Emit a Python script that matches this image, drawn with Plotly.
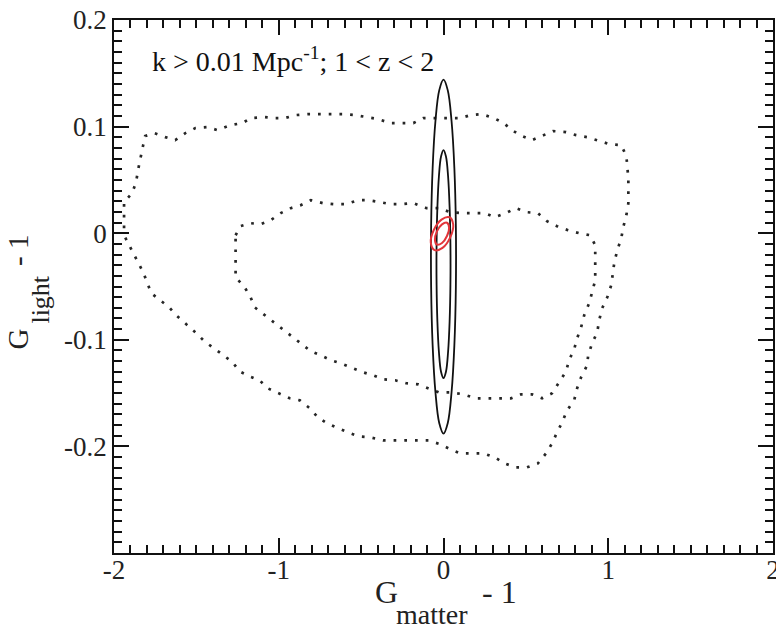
import plotly.graph_objects as go

# ---- data (x = G_matter - 1, y = G_light - 1) ----
outer_dot_x = [-1.939, -1.939, -1.939, -1.890, -1.866, -1.854, -1.841, -1.823, -1.811, -1.756,
               -1.689, -1.628, -1.567, -1.506, -1.433, -1.372, -1.293, -1.220, -1.171, -1.085,
               -1.024, -0.963, -0.896, -0.823, -0.750, -0.683, -0.610, -0.537, -0.470, -0.396,
               -0.323, -0.256, -0.183, -0.122, -0.043, 0.030, 0.104, 0.165, 0.232, 0.305,
               0.366, 0.415, 0.476, 0.537, 0.598, 0.665, 0.744, 0.805, 0.872, 0.933,
               1.006, 1.079, 1.110, 1.116, 1.122, 1.122, 1.122, 1.110, 1.091, 1.079,
               1.055, 1.037, 1.018, 0.994, 0.963, 0.945, 0.933, 0.902, 0.878, 0.872,
               0.835, 0.811, 0.793, 0.750, 0.720, 0.689, 0.659, 0.622, 0.573, 0.506,
               0.439, 0.372, 0.311, 0.244, 0.171, 0.104, 0.043, -0.018, -0.091, -0.152,
               -0.226, -0.293, -0.366, -0.445, -0.518, -0.579, -0.640, -0.707, -0.762, -0.811,
               -0.872, -0.933, -1.000, -1.067, -1.116, -1.177, -1.238, -1.280, -1.335, -1.396,
               -1.451, -1.506, -1.561, -1.616, -1.665, -1.720, -1.774, -1.823, -1.860, -1.902,
               -1.939]
outer_dot_y = [0.0047, 0.0169, 0.0291, 0.0376, 0.0479, 0.0592, 0.0704, 0.0826, 0.0911, 0.0939,
               0.0901, 0.0873, 0.0939, 0.0986, 0.0995, 0.0967, 0.1014, 0.1033, 0.1080, 0.1089,
               0.1080, 0.1080, 0.1108, 0.1117, 0.1117, 0.1117, 0.1117, 0.1108, 0.1089, 0.1070,
               0.1033, 0.1033, 0.1033, 0.1080, 0.1080, 0.1080, 0.1080, 0.1108, 0.1117, 0.1080,
               0.1033, 0.0967, 0.0911, 0.0873, 0.0911, 0.0958, 0.0948, 0.0920, 0.0901, 0.0873,
               0.0836, 0.0826, 0.0723, 0.0620, 0.0507, 0.0385, 0.0282, 0.0169, 0.0056, -0.0047,
               -0.0160, -0.0272, -0.0488, -0.0601, -0.0704, -0.0817, -0.0930, -0.1033, -0.1146, -0.1239,
               -0.1352, -0.1455, -0.1568, -0.1662, -0.1775, -0.1869, -0.1972, -0.2066, -0.2160, -0.2197,
               -0.2197, -0.2160, -0.2103, -0.2066, -0.2066, -0.2066, -0.2028, -0.1981, -0.1944, -0.1944,
               -0.1944, -0.1944, -0.1944, -0.1915, -0.1906, -0.1869, -0.1831, -0.1784, -0.1728, -0.1643,
               -0.1568, -0.1549, -0.1502, -0.1455, -0.1380, -0.1343, -0.1296, -0.1211, -0.1146, -0.1080,
               -0.1014, -0.0930, -0.0854, -0.0779, -0.0695, -0.0629, -0.0563, -0.0366, -0.0254, -0.0141,
               -0.0019]

inner_dot_x = [-1.262, -1.232, -1.171, -1.110, -1.049, -0.988, -0.927, -0.866, -0.805, -0.732,
               -0.659, -0.591, -0.518, -0.457, -0.384, -0.323, -0.256, -0.183, -0.104, -0.030,
               0.043, 0.110, 0.183, 0.250, 0.311, 0.378, 0.439, 0.506, 0.573, 0.628,
               0.689, 0.756, 0.823, 0.890, 0.921, 0.921, 0.921, 0.921, 0.902, 0.884,
               0.854, 0.835, 0.811, 0.793, 0.762, 0.744, 0.701, 0.659, 0.598, 0.537,
               0.470, 0.409, 0.335, 0.262, 0.195, 0.122, 0.043, -0.030, -0.091, -0.152,
               -0.226, -0.293, -0.366, -0.427, -0.488, -0.549, -0.622, -0.683, -0.744, -0.805,
               -0.866, -0.915, -0.970, -1.024, -1.085, -1.146, -1.171, -1.207, -1.262, -1.262,
               -1.262, -1.262, -1.262]
inner_dot_y = [-0.0019, 0.0066, 0.0094, 0.0085, 0.0122, 0.0188, 0.0235, 0.0263, 0.0310, 0.0282,
               0.0272, 0.0272, 0.0310, 0.0310, 0.0291, 0.0272, 0.0272, 0.0282, 0.0235, 0.0235,
               0.0197, 0.0188, 0.0188, 0.0188, 0.0150, 0.0188, 0.0235, 0.0197, 0.0188, 0.0113,
               0.0066, 0.0028, 0.0000, -0.0019, -0.0113, -0.0216, -0.0329, -0.0441, -0.0554, -0.0657,
               -0.0770, -0.0883, -0.0986, -0.1089, -0.1192, -0.1296, -0.1399, -0.1502, -0.1549, -0.1512,
               -0.1512, -0.1549, -0.1549, -0.1549, -0.1549, -0.1512, -0.1493, -0.1493, -0.1455, -0.1418,
               -0.1408, -0.1380, -0.1371, -0.1333, -0.1305, -0.1268, -0.1221, -0.1192, -0.1146, -0.1108,
               -0.1033, -0.0977, -0.0911, -0.0836, -0.0770, -0.0695, -0.0601, -0.0507, -0.0413, -0.0319,
               -0.0225, -0.0131, -0.0019]

outer_solid_x = [0.000, 0.026, 0.049, 0.066, 0.075, 0.075, 0.066, 0.049, 0.026, 0.000,
                 -0.026, -0.049, -0.066, -0.075, -0.075, -0.066, -0.049, -0.026, 0.000]
outer_solid_y = [0.144, 0.134, 0.105, 0.061, 0.007, -0.051, -0.105, -0.149, -0.178, -0.188,
                 -0.178, -0.149, -0.105, -0.051, 0.007, 0.061, 0.105, 0.134, 0.144]

inner_solid_x = [0.000, 0.015, 0.028, 0.037, 0.042, 0.042, 0.037, 0.028, 0.015, 0.000,
                 -0.015, -0.028, -0.037, -0.042, -0.042, -0.037, -0.028, -0.015, 0.000]
inner_solid_y = [0.078, 0.072, 0.053, 0.0245, -0.010, -0.048, -0.083, -0.111, -0.130, -0.136,
                 -0.130, -0.111, -0.083, -0.048, -0.010, 0.0245, 0.053, 0.072, 0.078]

red_outer_x = [0.036, 0.059, 0.041, -0.006, -0.054, -0.077, -0.059, -0.012, 0.036]
red_outer_y = [0.0150, 0.0080, -0.0039, -0.0138, -0.0159, -0.0089, 0.0030, 0.0128, 0.0150]

red_inner_x = [0.021, 0.034, 0.021, -0.009, -0.040, -0.052, -0.040, -0.009, 0.021]
red_inner_y = [0.0098, 0.0053, -0.0026, -0.0092, -0.0107, -0.0062, 0.0017, 0.0083, 0.0098]

x_ticks = [-2, -1, 0, 1, 2]
x_tick_text = ["-2", "-1", "0", "1", "2"]
y_ticks = [-0.2, -0.1, 0, 0.1, 0.2]
y_tick_text = ["-0.2", "-0.1", "0", "0.1", "0.2"]

label_text = "k > 0.01 Mpc<sup>-1</sup>; 1 < z < 2"
# axis titles: main symbol, subscript (drawn deep below the baseline as in the reference), suffix
x_title_main, x_title_sub, x_title_tail = "G", "matter", "- 1"
y_title_main, y_title_sub, y_title_tail = "G", "light", "- 1"

SERIF = "Liberation Serif, Times New Roman, serif"
DOT = "#262626"
TXT = "#222222"

fig = go.Figure()
fig.add_trace(go.Scatter(x=outer_dot_x, y=outer_dot_y, mode="lines",
                         line=dict(color=DOT, width=2.7, dash="2.7px,8px"), hoverinfo="skip"))
fig.add_trace(go.Scatter(x=inner_dot_x, y=inner_dot_y, mode="lines",
                         line=dict(color=DOT, width=2.7, dash="2.7px,8px"), hoverinfo="skip"))
fig.add_trace(go.Scatter(x=outer_solid_x, y=outer_solid_y, mode="lines",
                         line=dict(color="#111111", width=1.8, shape="spline"), hoverinfo="skip"))
fig.add_trace(go.Scatter(x=inner_solid_x, y=inner_solid_y, mode="lines",
                         line=dict(color="#111111", width=1.8, shape="spline"), hoverinfo="skip"))
fig.add_trace(go.Scatter(x=red_outer_x, y=red_outer_y, mode="lines",
                         line=dict(color="#e2353a", width=2, shape="spline"), hoverinfo="skip"))
fig.add_trace(go.Scatter(x=red_inner_x, y=red_inner_y, mode="lines",
                         line=dict(color="#e2353a", width=2, shape="spline"), hoverinfo="skip"))

axis_common = dict(
    showgrid=False, zeroline=False, showline=True, linecolor="#111111", linewidth=1.6,
    mirror="allticks", ticks="inside", ticklen=15, tickwidth=1.5, tickcolor="#111111",
    tickfont=dict(family=SERIF, size=27, color=TXT), ticklabeloverflow="allow",
)

def ann(text, x, y, size, angle=0):
    return dict(text=text, x=x, y=y, xref="paper", yref="paper", textangle=angle,
                xanchor="center", yanchor="middle", showarrow=False,
                font=dict(family=SERIF, size=size, color=TXT))

fig.update_layout(
    width=776, height=625,
    margin=dict(l=114, r=3, t=20, b=72, autoexpand=False),
    paper_bgcolor="white", plot_bgcolor="white",
    showlegend=False,
    xaxis=dict(range=[-2, 2], tickvals=x_ticks, ticktext=x_tick_text,
               minor=dict(dtick=0.1, ticks="inside", ticklen=8, tickwidth=1.5, tickcolor="#111111",
                          showgrid=False, tick0=0),
               ticklabelstandoff=-8,
               **axis_common),
    yaxis=dict(range=[-0.3, 0.2], tickvals=y_ticks, ticktext=y_tick_text,
               minor=dict(dtick=0.01, ticks="inside", ticklen=8, tickwidth=1.5, tickcolor="#111111",
                          showgrid=False, tick0=0),
               **axis_common),
    annotations=[
        dict(text=label_text, x=0.055, y=0.925, xref="paper", yref="paper",
             xanchor="left", yanchor="middle", showarrow=False,
             font=dict(family=SERIF, size=28, color="#111111")),
        ann(x_title_main, 0.4135, -0.074, 32),
        ann(x_title_sub, 0.4833, -0.116, 28),
        ann(x_title_tail, 0.585, -0.074, 32),
        ann(y_title_main, -0.1457, 0.4024, 29, -90),
        ann(y_title_sub, -0.1114, 0.4747, 26, -90),
        ann(y_title_tail, -0.1457, 0.5685, 29, -90),
    ],
)

fig.write_html("out.html")
